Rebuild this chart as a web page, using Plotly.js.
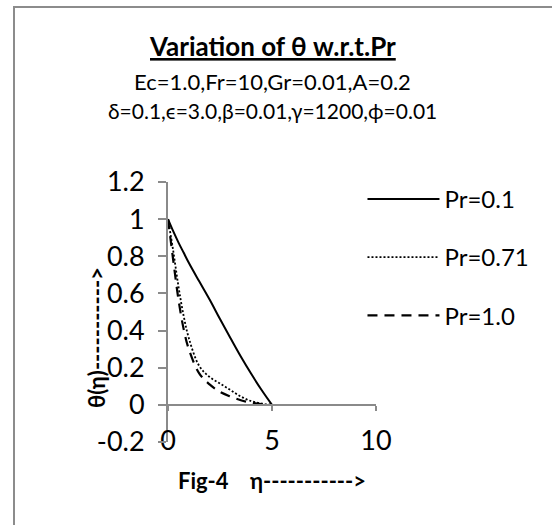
<!DOCTYPE html>
<html>
<head>
<meta charset="utf-8">
<script src="https://cdn.plot.ly/plotly-3.0.1.min.js"></script>
<style>
  html, body { margin: 0; padding: 0; background: #ffffff; }
  #chart { width: 552px; height: 525px; position: absolute; left: 0; top: 0; }
  #frame { position: absolute; left: 13px; top: 6px; width: 620px; height: 620px;
           border-left: 2px solid #8c8c8c; border-top: 2px solid #8c8c8c; pointer-events: none; }
</style>
</head>
<body>
<div id="chart"></div>
<div id="frame"></div>
<script>
// eta values
var eta = [0, 0.25, 0.5, 0.75, 1, 1.5, 2, 2.5, 3, 3.5, 4, 4.5, 5];
// theta for Pr = 0.1
var thetaPr01  = [1, 0.935, 0.875, 0.82, 0.765, 0.665, 0.567, 0.462, 0.36, 0.26, 0.167, 0.08, 0];
// theta for Pr = 0.71
var thetaPr071 = [1, 0.83, 0.64, 0.48, 0.36, 0.21, 0.15, 0.115, 0.08, 0.045, 0.02, 0.007, 0];
// theta for Pr = 1.0
var thetaPr10  = [1, 0.78, 0.57, 0.41, 0.30, 0.17, 0.11, 0.07, 0.045, 0.025, 0.012, 0.004, 0];

var seriesNames = ['Pr=0.1', 'Pr=0.71', 'Pr=1.0'];
var xTicks = [0, 5, 10];
var yTicks = [-0.2, 0, 0.2, 0.4, 0.6, 0.8, 1, 1.2];
var yTickText = ['-0.2', '0', '0.2', '0.4', '0.6', '0.8', '1', '1.2'];

var FONT = 'Lato, "Noto Sans", "Open Sans", sans-serif';
var AXIS_GREY = '#8a8a8a';

var traces = [
  {x: eta, y: thetaPr01, name: seriesNames[0], mode: 'lines', legendgroup: 'a',
   line: {color: '#000000', width: 2, dash: 'solid', shape: 'spline'}},
  {x: eta, y: thetaPr071, name: seriesNames[1], mode: 'lines', legendgroup: 'b',
   line: {color: '#000000', width: 1.8, dash: '2px,2px', shape: 'spline'}},
  {x: eta, y: thetaPr10, name: seriesNames[2], mode: 'lines', legendgroup: 'c',
   line: {color: '#000000', width: 2.2, dash: '10px,7px', shape: 'spline'}}
];

var layout = {
  width: 552, height: 525,
  margin: {l: 168, r: 176, t: 182, b: 83},
  paper_bgcolor: '#ffffff', plot_bgcolor: '#ffffff',
  font: {family: FONT, size: 24, color: '#000000'},
  showlegend: true,
  legend: {x: 0.935, y: 1.02, xanchor: 'left', yanchor: 'top',
           font: {family: FONT, size: 24, color: '#000000'},
           itemwidth: 72, tracegroupgap: 24, bgcolor: 'rgba(0,0,0,0)'},
  xaxis: {range: [0, 10], tickvals: xTicks, ticktext: xTicks.map(String),
          anchor: 'free', position: 0.2 / 1.4,
          showline: true, linecolor: AXIS_GREY, linewidth: 2,
          ticks: 'outside', ticklen: 5, tickwidth: 2, tickcolor: AXIS_GREY,
          ticklabelstandoff: 7,
          showgrid: false, zeroline: false, fixedrange: true,
          tickfont: {family: FONT, size: 27, color: '#000000'},
          title: {text: '<b>Fig-4    η-----------></b>', standoff: 17,
                  font: {family: FONT, size: 22, color: '#000000'}}},
  yaxis: {range: [-0.2, 1.2], tickvals: yTicks, ticktext: yTickText,
          showline: true, linecolor: AXIS_GREY, linewidth: 2,
          ticks: 'outside', ticklen: 8, tickwidth: 2, tickcolor: AXIS_GREY,
          ticklabelstandoff: 8,
          showgrid: false, zeroline: false, fixedrange: true,
          tickfont: {family: FONT, size: 27, color: '#000000'}},
  annotations: [
    {text: '<b><u>Variation of θ w.r.t.Pr</u></b>', xref: 'paper', yref: 'paper',
     x: 0.5, y: 1, yshift: 136, xanchor: 'center', yanchor: 'middle', showarrow: false,
     font: {family: FONT, size: 26, color: '#000000'}},
    {text: 'Ec=1.0,Fr=10,Gr=0.01,A=0.2', xref: 'paper', yref: 'paper',
     x: 0.5, y: 1, yshift: 101, xanchor: 'center', yanchor: 'middle', showarrow: false,
     font: {family: FONT, size: 22, color: '#000000'}},
    {text: 'δ=0.1,ϵ=3.0,β=0.01,γ=1200,ϕ=0.01', xref: 'paper', yref: 'paper',
     x: 0.5, y: 1, yshift: 72, xanchor: 'center', yanchor: 'middle', showarrow: false,
     font: {family: FONT, size: 21, color: '#000000'}},
    {text: '<b>θ(η)-----------></b>', xref: 'paper', yref: 'paper', textangle: -90,
     x: 0, xshift: -72, y: 0.4, xanchor: 'center', yanchor: 'middle', showarrow: false,
     font: {family: FONT, size: 22, color: '#000000'}}
  ]
};

Plotly.newPlot('chart', traces, layout, {displayModeBar: false, staticPlot: true});
</script>
</body>
</html>
